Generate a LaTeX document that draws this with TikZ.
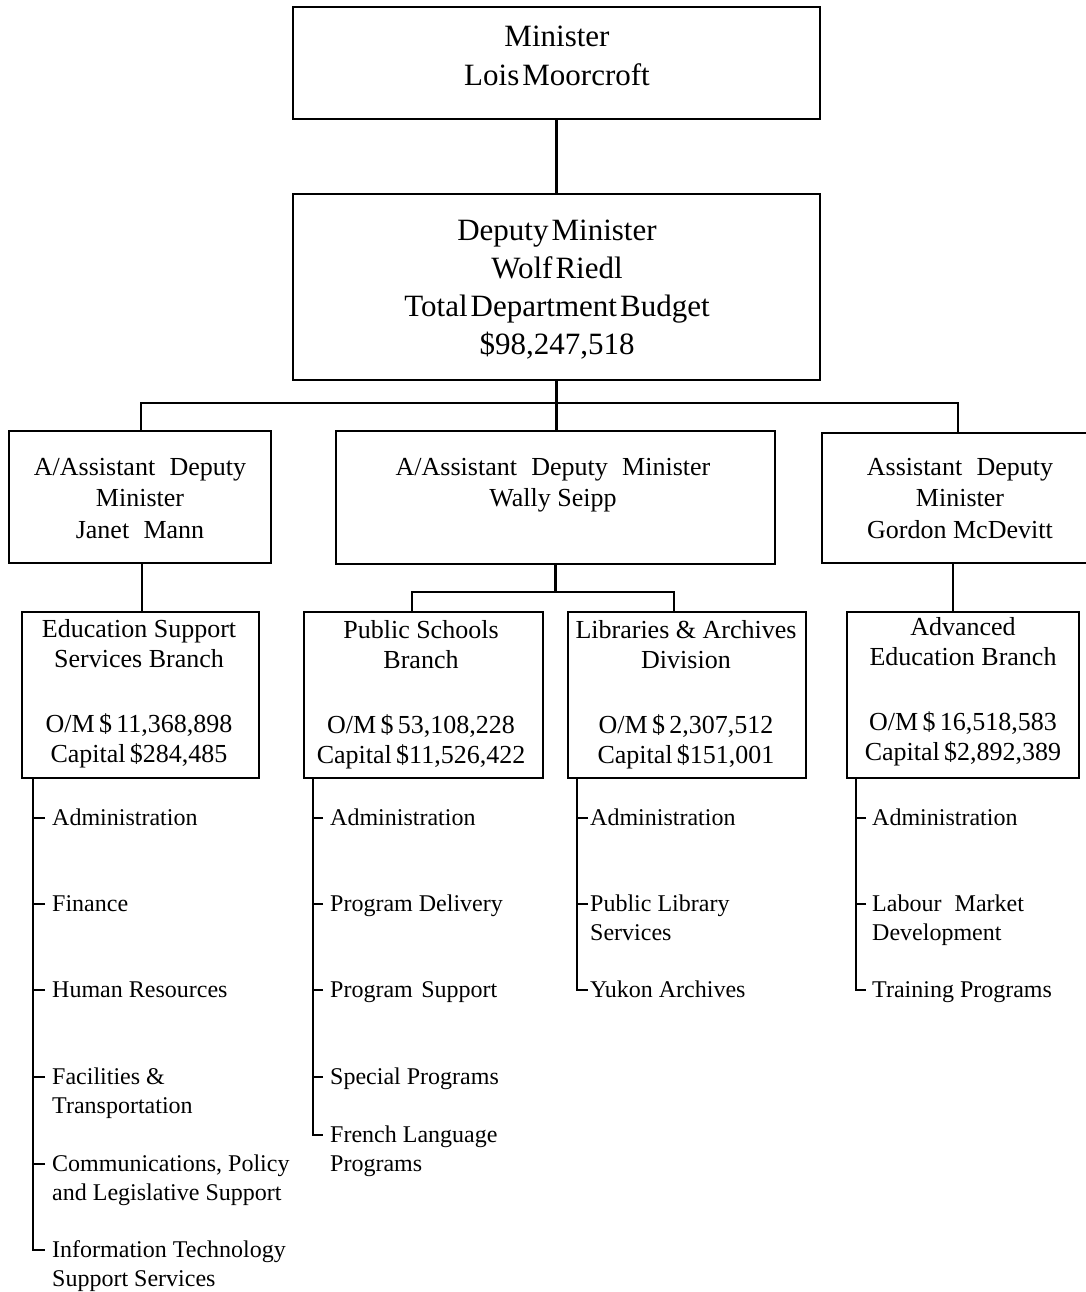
\documentclass[tikz,border=0pt]{standalone}
\usepackage{fontspec}
\setmainfont{Liberation Serif}
\newfontfamily\tightfont[WordSpace=0.4]{Liberation Serif}
\newcommand\ctab[1]{\begin{tabular}[t]{@{}c@{}}#1\end{tabular}}
\newcommand\ltab[1]{\begin{tabular}[t]{@{}l@{}}#1\end{tabular}}
\newcommand\wsp{\hspace{0.55em}}
\begin{document}
\begin{tikzpicture}[x=1pt,y=-1pt,
  box/.style={draw,line width=2.2pt,inner sep=0pt,outer sep=0pt,anchor=north west},
  toptext/.style={inner sep=0pt,font=\tightfont\fontsize{31}{38.3}\selectfont,anchor=base},
  midtext/.style={inner sep=0pt,font=\fontsize{26}{31.5}\selectfont,anchor=base},
  brtext/.style={inner sep=0pt,font=\fontsize{26}{30.5}\selectfont,anchor=base},
  itemtext/.style={inner sep=0pt,font=\fontsize{24}{29.5}\selectfont,anchor=base west},
  conn/.style={line width=2.2pt}]
\path[fill=white] (0,0) rectangle (1085,1292);
\useasboundingbox (0,0) rectangle (1085,1292);

% boxes
\node[box,minimum width=527pt,minimum height=112pt] (mi) at (293,7) {};
\node[box,minimum width=527pt,minimum height=186pt] (dm) at (293,194) {};
\node[box,minimum width=262pt,minimum height=132pt] (ja) at (9,431) {};
\node[box,minimum width=439pt,minimum height=133pt] (wa) at (336,431) {};
\node[box,minimum width=276pt,minimum height=130pt] (go) at (822,433) {};
\node[box,minimum width=237pt,minimum height=166pt] (es) at (22,612) {};
\node[box,minimum width=239pt,minimum height=166pt] (ps) at (304,612) {};
\node[box,minimum width=238pt,minimum height=166pt] (lb) at (568,612) {};
\node[box,minimum width=232pt,minimum height=166pt] (ad) at (847,612) {};

% box texts
\node[toptext] (mit) at (557,47) {\ctab{Minister\\Lois Moorcroft}};
\node[toptext] (dmt) at (557,240) {\ctab{Deputy Minister\\Wolf Riedl\\Total Department Budget\\\$98,247,518}};
\node[midtext] (jat) at (140,475) {\ctab{A/Assistant\wsp Deputy\\Minister\\Janet\wsp Mann}};
\node[midtext] (wat) at (553,475) {\ctab{A/Assistant\wsp Deputy\wsp Minister\\Wally Seipp}};
\node[midtext] (got) at (960,475) {\ctab{Assistant\wsp Deputy\\Minister\\Gordon McDevitt}};
\node[brtext] (est) at (139,637) {\ctab{Education Support\\Services Branch\\[34pt]O/M\,\$\,11,368,898\\Capital\,\$284,485}};
\node[brtext] (pst) at (421,638) {\ctab{Public Schools\\Branch\\[34pt]O/M\,\$\,53,108,228\\Capital\,\$11,526,422}};
\node[brtext] (lbt) at (686,638) {\ctab{Libraries \& Archives\\Division\\[34pt]O/M\,\$\,2,307,512\\Capital\,\$151,001}};
\node[brtext] (adt) at (963,635) {\ctab{Advanced\\Education Branch\\[34pt]O/M\,\$\,16,518,583\\Capital\,\$2,892,389}};

% connectors between boxes
\draw[conn] (mi.south) -- (mi.south |- dm.north);
\coordinate (bus) at (dm.south |- 0,403);
\draw[conn] (dm.south) -- (dm.south |- wa.north);
\draw[conn] ([xshift=1pt]ja.north) |- (bus) -| ([xshift=-2pt]go.north);
\draw[conn] ([xshift=2pt]ja.south) -- ([xshift=2pt]ja.south |- es.north);
\coordinate (wb) at (wa.south |- 0,592);
\draw[conn] (wa.south) -- (wb);
\draw[conn] ([xshift=-11.5pt]ps.north) |- (wb) -| ([xshift=-13pt]lb.north);
\draw[conn] ([xshift=-7pt]go.south) -- ([xshift=-7pt]go.south |- ad.north);

% items: Education Support Services Branch
\node[itemtext] (e1) at (52,825) {Administration};
\node[itemtext] (e2) at (52,911) {Finance};
\node[itemtext] (e3) at (52,997) {Human Resources};
\node[itemtext] (e4) at (52,1084) {\ltab{Facilities \&\\Transportation}};
\node[itemtext] (e5) at (52,1171) {\ltab{Communications, Policy\\and Legislative Support}};
\node[itemtext] (e6) at (52,1257) {\ltab{Information Technology\\Support Services}};
\draw[conn] (es.south -| 33,0) |- ([xshift=-7pt,yshift=7pt]e6.base west);
\foreach \n in {e1,e2,e3,e4,e5}
  \draw[conn] ([xshift=-7pt,yshift=7pt]\n.base west) -- ++(-12pt,0pt);

% items: Public Schools Branch
\node[itemtext] (p1) at (330,825) {Administration};
\node[itemtext] (p2) at (330,911) {Program Delivery};
\node[itemtext] (p3) at (330,997) {Program\hspace{0.35em}Support};
\node[itemtext] (p4) at (330,1084) {Special Programs};
\node[itemtext] (p5) at (330,1142) {\ltab{French Language\\Programs}};
\draw[conn] (ps.south -| 313,0) |- ([xshift=-7pt,yshift=7pt]p5.base west);
\foreach \n in {p1,p2,p3,p4}
  \draw[conn] ([xshift=-7pt,yshift=7pt]\n.base west) -- ++(-10pt,0pt);

% items: Libraries & Archives Division
\node[itemtext] (l1) at (590,825) {Administration};
\node[itemtext] (l2) at (590,911) {\ltab{Public Library\\Services}};
\node[itemtext] (l3) at (590,997) {Yukon Archives};
\draw[conn] (lb.south -| 577,0) |- ([xshift=-2pt,yshift=7pt]l3.base west);
\foreach \n in {l1,l2}
  \draw[conn] ([xshift=-2pt,yshift=7pt]\n.base west) -- ++(-11pt,0pt);

% items: Advanced Education Branch
\node[itemtext] (a1) at (872,825) {Administration};
\node[itemtext] (a2) at (872,911) {\ltab{Labour\wsp Market\\Development}};
\node[itemtext] (a3) at (872,997) {Training Programs};
\draw[conn] (ad.south -| 856,0) |- ([xshift=-6pt,yshift=7pt]a3.base west);
\foreach \n in {a1,a2}
  \draw[conn] ([xshift=-6pt,yshift=7pt]\n.base west) -- ++(-10pt,0pt);
\end{tikzpicture}
\end{document}
